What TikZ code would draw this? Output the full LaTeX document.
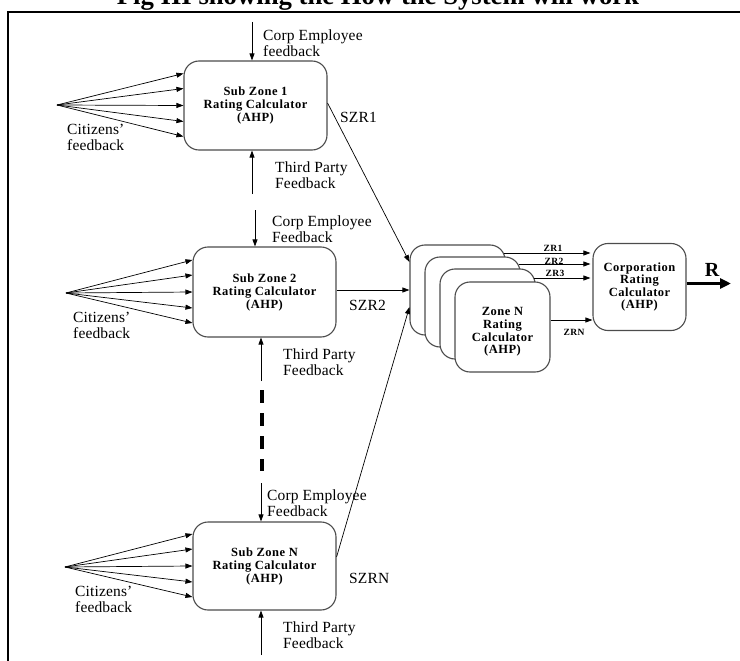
\documentclass[tikz,border=0pt]{standalone}
\usepackage{fontspec}
\setmainfont{Liberation Serif}
\usetikzlibrary{arrows.meta,calc}
\begin{document}
\begin{tikzpicture}[x=1pt,y=-1pt,
  box/.style={draw=black!70, line width=1.1pt, rounded corners=15pt, fill=white, inner sep=0pt, align=center, font=\bfseries\fontsize{12.5}{13}\selectfont\addfontfeatures{LetterSpace=4}},
  boxtext/.style={inner sep=0pt, align=center, font=\bfseries\fontsize{12.5}{12.7}\selectfont\addfontfeatures{LetterSpace=4}},
  arr/.style={-{Triangle[length=7pt,width=5pt]}, line width=0.7pt},
  lab/.style={anchor=west, inner sep=0pt, align=left, font=\fontsize{15.5}{16}\selectfont\addfontfeatures{LetterSpace=1}},
  zr/.style={inner sep=0pt, font=\bfseries\fontsize{9.5}{10}\selectfont\addfontfeatures{LetterSpace=4}}
]
\clip (0,0) rectangle (740,661);
% title and frame
\node[font=\bfseries\fontsize{26.7}{28}\selectfont, anchor=base, inner sep=0pt] (title) at (378,5) {Fig III showing the How the System will work};
\draw[line width=2pt] (8,700) -- (8,12) -- (760,12);

% sub zone boxes
\node[box, minimum width=143pt, minimum height=89pt] (b1) at (255.5,105.5) {Sub Zone 1\\Rating Calculator\\(AHP)};
\node[box, minimum width=143pt, minimum height=90pt] (b2) at (264.5,292) {Sub Zone 2\\Rating Calculator\\(AHP)};
\node[box, minimum width=143pt, minimum height=88pt] (bN) at (264.5,566) {Sub Zone N\\Rating Calculator\\(AHP)};

% zone stack
\node[box, minimum width=95pt, minimum height=90pt] (zA) at (457.5,290) {};
\node[box, minimum width=95pt, minimum height=90pt] (zB) at (472.5,302) {};
\node[box, minimum width=95pt, minimum height=90pt] (zC) at (487.5,314) {};
\node[box, minimum width=95pt, minimum height=90pt] (zD) at (502.5,327) {};
\node[boxtext] (zDt) at (502.5,332) {Zone N\\Rating\\Calculator\\(AHP)};

% corporation box
\node[box, minimum width=93pt, minimum height=87pt, font=\bfseries\fontsize{12.5}{12.3}\selectfont\addfontfeatures{LetterSpace=4}] (corp) at (639.5,287) {Corporation\\Rating\\Calculator\\(AHP)};

% citizens fans
\coordinate (f1) at (57,105);
\coordinate (f2) at (66,293);
\coordinate (fN) at (65,567);
\foreach \s in {32,17,0,-16,-31} {
  \draw[arr] (f1) -- ([yshift=\s pt]b1.west);
  \draw[arr] (f2) -- ([yshift=\s pt]b2.west);
  \draw[arr] (fN) -- ([yshift=\s pt]bN.west);
}

% corp employee / third party arrows
\coordinate (ce1) at (252,22);  \draw[arr] (ce1) -- (ce1 |- b1.north);
\coordinate (tp1) at (252,194); \draw[arr] (tp1) -- (tp1 |- b1.south);
\coordinate (ce2) at (255,210); \draw[arr] (ce2) -- (ce2 |- b2.north);
\coordinate (tp2) at (261,381); \draw[arr] (tp2) -- (tp2 |- b2.south);
\coordinate (ceN) at (261,483); \draw[arr] (ceN) -- (ceN |- bN.north);
\coordinate (tpN) at (261,655); \draw[arr] (tpN) -- (tpN |- bN.south);

% dashed continuation
\coordinate (d1) at (262,390);
\coordinate (d2) at (262,471);
\draw[line width=4pt, dash pattern=on 13pt off 10pt] (d1) -- (d2);

% labels
\node[lab] (l1ce) at (263,43) {Corp Employee\\feedback};
\node[lab] (l1tp) at (275,175) {Third Party\\Feedback};
\node[lab] (l1ci) at (67,137.5) {Citizens’\\feedback};
\node[lab] (l2ce) at (272,229) {Corp Employee\\Feedback};
\node[lab] (l2tp) at (283,362.5) {Third Party\\Feedback};
\node[lab] (l2ci) at (73,325) {Citizens’\\feedback};
\node[lab] (lNce) at (267,503) {Corp Employee\\Feedback};
\node[lab] (lNtp) at (283,635) {Third Party\\Feedback};
\node[lab] (lNci) at (75,599.5) {Citizens’\\feedback};

% SZR connectors
\draw[arr] ([yshift=2.5pt]b1.east) -- ([yshift=28pt]zA.west);
\draw[arr] ([yshift=2pt]b2.east) -- ([yshift=2pt]b2.east -| zA.west);
\draw[arr] ([yshift=9pt]bN.east) -- ([yshift=-17pt]zA.west);
\node[lab] (szr1) at (340,117) {SZR1};
\node[lab] (szr2) at (349,305) {SZR2};
\node[lab] (szrN) at (349,578) {SZRN};

% ZR connectors
\draw[arr] ([xshift=-2pt,yshift=37pt]zA.east) -- ([xshift=-2pt,yshift=37pt]zA.east -| corp.west);
\draw[arr] ([xshift=-2pt,yshift=38pt]zB.east) -- ([xshift=-2pt,yshift=38pt]zB.east -| corp.west);
\draw[arr] ([xshift=-2pt,yshift=36pt]zC.east) -- ([xshift=-2pt,yshift=36pt]zC.east -| corp.west);
\draw[arr] ([yshift=7pt]zD.east) -- ([yshift=7pt]zD.east -| corp.west);
\node[zr] (lzr1) at (553,248) {ZR1};
\node[zr] (lzr2) at (554,261) {ZR2};
\node[zr] (lzr3) at (555,273) {ZR3};
\node[zr] (lzrN) at (574,332) {ZRN};

% output R
\coordinate (rend) at (731,283.5);
\draw[-{Triangle[length=11pt,width=10pt]}, line width=3pt] ([yshift=3.5pt]corp.east) -- (rend);
\node[inner sep=0pt, font=\bfseries\fontsize{20}{21}\selectfont] (lR) at (712,270) {R};
\end{tikzpicture}
\end{document}
